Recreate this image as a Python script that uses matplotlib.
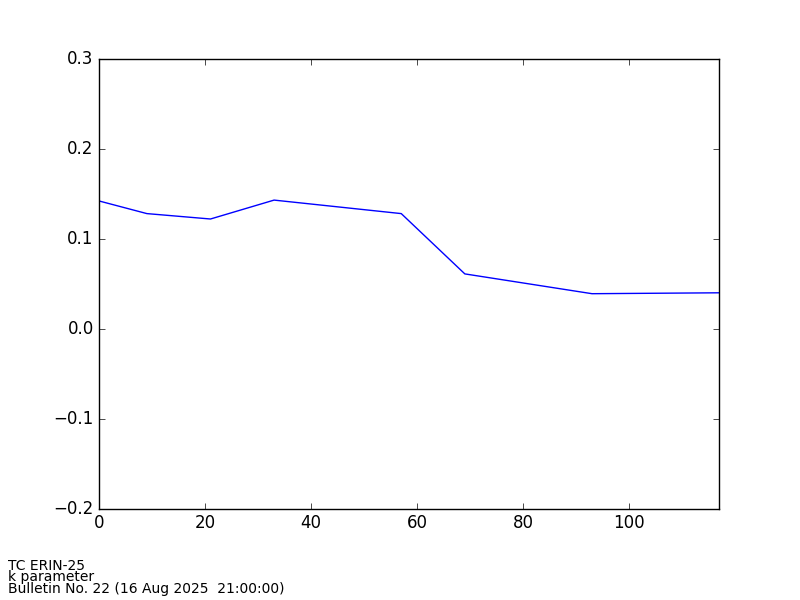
import matplotlib
matplotlib.use("Agg")
import matplotlib.pyplot as plt

plt.style.use('classic')

# forecast lead time (h) and k parameter
hours = [0, 9, 21, 33, 57, 69, 93, 117]
kpar = [0.142, 0.128, 0.122, 0.143, 0.128, 0.061, 0.039, 0.040]

info_lines = ["TC ERIN-25", "k parameter", "Bulletin No. 22 (16 Aug 2025  21:00:00)"]

fig = plt.figure(figsize=(8, 6), dpi=100, facecolor='white')
ax = fig.add_axes([0.124, 0.152, 0.775, 0.75])
ax.plot(hours, kpar, color='b', linewidth=1.0)
ax.set_xlim(0, 117)
ax.set_ylim(-0.2, 0.3)
ax.set_xticks([0, 20, 40, 60, 80, 100])
ax.set_yticks([-0.2, -0.1, 0.0, 0.1, 0.2, 0.3])
ax.tick_params(axis='both', which='major', labelsize=12)

ys = [1 - 570/600, 1 - 581.5/600, 1 - 593/600]
for txt, y in zip(info_lines, ys):
    fig.text(8/800, y, txt, fontsize=10, ha='left', va='baseline')

fig.savefig("out.png", dpi=100, facecolor='white')
